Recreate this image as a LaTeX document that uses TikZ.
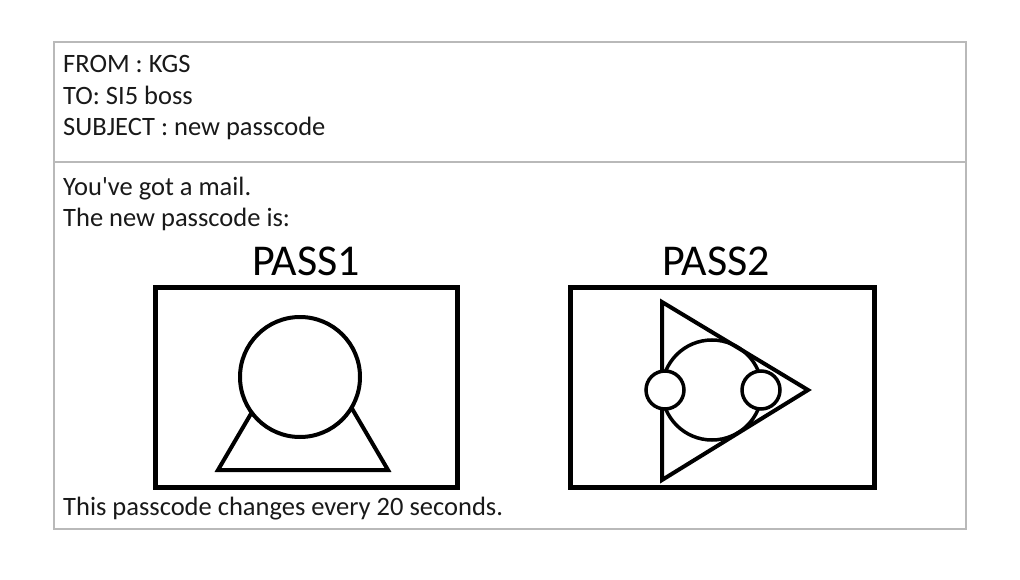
\documentclass[tikz,border=0pt]{standalone}
\usepackage{fontspec}
\setmainfont{Carlito}
\usetikzlibrary{positioning}

\tikzset{
  mailtext/.style={anchor=base west, inner sep=0pt, font=\fontsize{26.5}{30}\selectfont, text=black!90},
  passlabel/.style={anchor=base, inner sep=0pt, font=\fontsize{44}{50}\selectfont, text=black},
  passbox/.style={draw, line width=5pt, inner sep=0pt},
  glyph/.style={line width=4pt, line join=miter}
}

\begin{document}
\begin{tikzpicture}[x=1pt,y=-1pt]
  \useasboundingbox (0,0) rectangle (1020,580);

  % Draw the mail frame and the header line
  \draw[gray!55, line width=1.2pt] (54,42) rectangle (966,529);
  \draw[gray!55, line width=1.2pt] (54,162) -- (966,162);

  % Header and body text
  \node[mailtext] (from) at (63,73) {FROM : KGS};
  \node[mailtext] (to) at (63,105) {TO: SI5 boss};
  \node[mailtext] (subject) at (63,136) {SUBJECT : new passcode};
  \node[mailtext] (greet) at (63,196) {You\textquotesingle ve got a mail.};
  \node[mailtext] (intro) at (63,226) {The new passcode is:};
  \node[mailtext] (note) at (63,515) {This passcode changes every 20 seconds.};

  % The two passcode boxes
  \node[passbox, minimum width=302pt, minimum height=200pt] (box1) at (306,387.5) {};
  \node[passbox, minimum width=304pt, minimum height=200pt] (box2) at (722,387.5) {};
  \node[passlabel] (pass1) at (306,276) {PASS1};
  \node[passlabel] (pass2) at (716,276) {PASS2};

  % PASS1: circle sitting on a triangle
  \draw[glyph] (303,325) -- (218,470) -- (388,470) -- cycle;
  \filldraw[glyph, fill=white] (300,377) circle (60);

  % PASS2: triangle with its incircle and two small circles
  \draw[glyph] (662,302) -- (662,480) -- (808,390) -- cycle;
  \draw[line width=3.5pt] (712,390) circle (50);
  \filldraw[line width=3.5pt, fill=white] (665,390) circle (19);
  \filldraw[line width=3.5pt, fill=white] (761,390) circle (19);
\end{tikzpicture}
\end{document}
